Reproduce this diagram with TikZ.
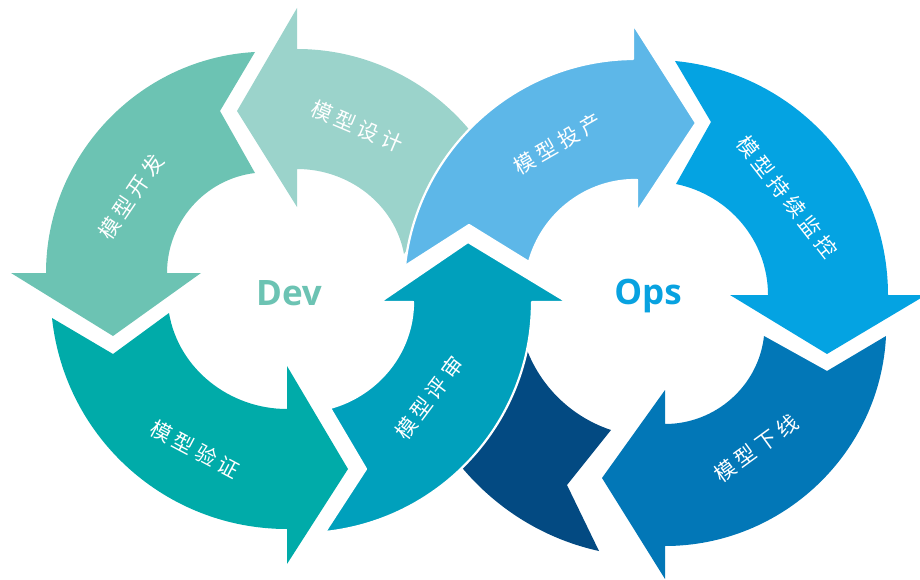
\documentclass[tikz,border=0pt]{standalone}
\usepackage{fontspec}
\newfontfamily\cjk{Noto Sans CJK SC}
\newfontfamily\labfont{Open Sans}
\newcommand\ks{\kern4.5pt}
\definecolor{cSheji}{HTML}{9BD3CB}
\definecolor{cKaifa}{HTML}{6CC3B3}
\definecolor{cYanzheng}{HTML}{00ABA9}
\definecolor{cPingshen}{HTML}{00A0BC}
\definecolor{cTouchan}{HTML}{5DB7E8}
\definecolor{cJiankong}{HTML}{04A3E2}
\definecolor{cXiaxian}{HTML}{0277B7}
\definecolor{cNavy}{HTML}{034A82}
\definecolor{cDev}{HTML}{6CC3B3}
\definecolor{cOps}{HTML}{08A2E0}
\begin{document}
\begin{tikzpicture}[x=1pt,y=1pt,
  seg/.style={draw=none},
  cut/.style={draw=white,line width=2.2pt,line join=round},
  lbl/.style={text=white,inner sep=0pt,font=\cjk\fontsize{21}{26}\selectfont},
  big/.style={inner sep=0pt,anchor=base,font=\labfont\bfseries\fontsize{35}{40}\selectfont}]
\useasboundingbox (0,0) rectangle (920,-580);
\clip (0,0) rectangle (920,-580);
% ---- Dev ring ----
% 模型设计
\fill[cSheji,seg] (297,-207) -- (237,-111) -- (297,-8) -- (297,-49)
  to[out=0,in=125,looseness=0.9] (481,-145) -- (404,-254)
  to[out=100.6,in=0,looseness=0.96] (297,-169) -- cycle;
% 模型开发
\fill[cKaifa,seg] (255,-52) -- (220,-111) -- (255,-173)
  to[out=186.8,in=90,looseness=0.97] (167,-273) -- (201,-273) -- (113,-336)
  -- (11,-273) -- (46,-273)
  to[out=90,in=183.1,looseness=0.98] (255,-52) -- cycle;
% 模型验证
\fill[cYanzheng,seg] (52,-318) -- (113,-354) -- (169,-313)
  to[out=279.6,in=180,looseness=0.96] (287,-409) -- (287,-366) -- (348,-469)
  -- (287,-564) -- (287,-529)
  to[out=180,in=276.1,looseness=0.98] (52,-318) -- cycle;
% navy (under 模型评审)
\fill[cNavy,seg] (599,-551) -- (567,-485) -- (611,-430)
  to[out=161.6,in=280.2,looseness=0.92] (520,-325) -- (416,-388)
  to[out=290.1,in=167.6,looseness=0.91] (599,-551) -- cycle;
% 模型评审
\filldraw[fill=cPingshen,cut] (325,-532) -- (366,-469) -- (330,-408)
  to[out=15.3,in=-90,looseness=0.95] (413,-302) -- (380,-302) -- (468,-242)
  -- (567,-302) -- (532,-302)
  to[out=-90,in=6,looseness=0.98] (325,-532) -- cycle;
% ---- Ops ring ----
% 模型持续监控
\fill[cJiankong,seg] (675,-61) -- (711,-122) -- (676,-184)
  to[out=-11.7,in=90,looseness=0.96] (768,-295) -- (730,-295) -- (827,-354)
  -- (926,-295) -- (888,-295)
  to[out=90,in=-5.4,looseness=0.98] (675,-61) -- cycle;
% 模型下线
\fill[cXiaxian,seg] (886,-336) -- (827,-371) -- (764,-336)
  to[out=-96.3,in=0,looseness=0.975] (665,-424) -- (665,-390) -- (602,-478)
  -- (665,-579) -- (665,-546)
  to[out=0,in=-92.8,looseness=0.985] (886,-336) -- cycle;
% 模型投产 (over 模型设计)
\filldraw[fill=cTouchan,cut] (405,-266) -- (469,-225) -- (529,-262)
  to[out=74.7,in=179,looseness=0.95] (637,-180) -- (637,-212) -- (696,-123)
  -- (633,-24) -- (633,-59)
  to[out=180.5,in=83.8,looseness=0.975] (405,-266) -- cycle;
% ---- labels ----
\node[lbl,rotate=-23] (tSheji) at (357,-126) {模\ks{}型\ks{}设\ks{}计};
\node[lbl,rotate=56] (tKaifa) at (131,-197) {模\ks{}型\ks{}开\ks{}发};
\node[lbl,rotate=-28] (tYanzheng) at (195,-449) {模\ks{}型\ks{}验\ks{}证};
\node[lbl,rotate=53] (tPingshen) at (429,-398) {模\ks{}型\ks{}评\ks{}审};
\node[lbl,rotate=30] (tTouchan) at (558,-144) {模\ks{}型\ks{}投\ks{}产};
\node[lbl,rotate=-52] (tJiankong) at (787,-197) {模\ks{}型\ks{}持\ks{}续\ks{}监\ks{}控};
\node[lbl,rotate=36] (tXiaxian) at (756,-448) {模\ks{}型\ks{}下\ks{}线};
\node[big,text=cDev] (dev) at (289,-305) {Dev};
\node[big,text=cOps] (ops) at (648,-304) {Ops};
\end{tikzpicture}
\end{document}
